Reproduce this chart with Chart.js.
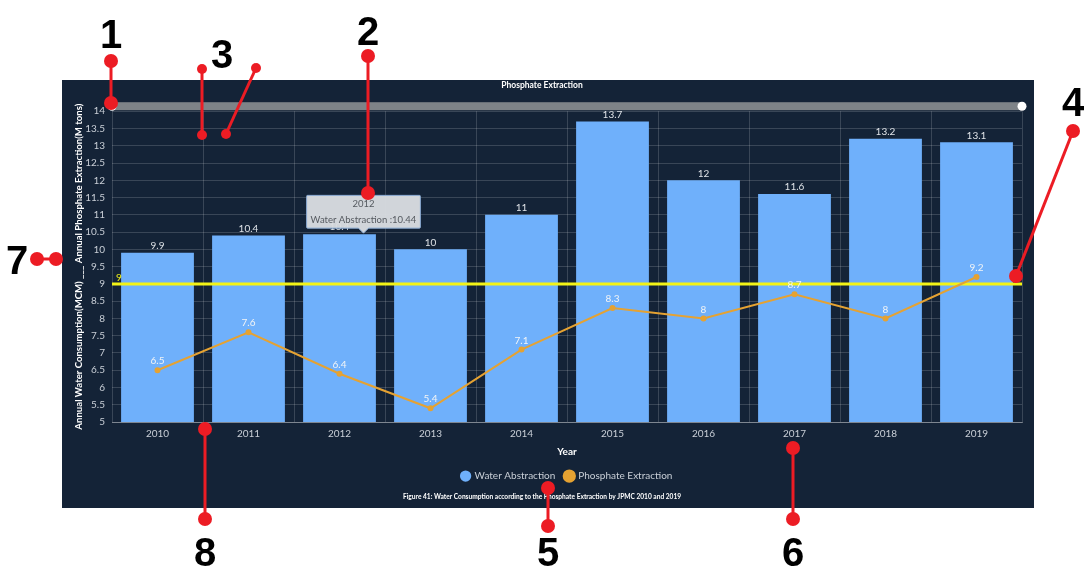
<!DOCTYPE html>
<html>
<head>
<meta charset="utf-8">
<title>Phosphate Extraction</title>
<script src="https://cdn.jsdelivr.net/npm/chart.js@4.4.0/dist/chart.umd.min.js"></script>
<style>
    html, body { margin: 0; padding: 0; background: #ffffff; }
    body { width: 1084px; height: 569px; position: relative; overflow: hidden; font-family: Lato, sans-serif; }
    .panel { position: absolute; left: 62px; top: 80px; width: 972px; height: 428px; background: #142337; }
    #chart { display: block; }
    .callouts { position: absolute; left: 0; top: 0; pointer-events: none; }
    .callouts text { font-family: "Liberation Sans", Arial, sans-serif; font-weight: 700; font-size: 40px; fill: #000; }
</style>
</head>
<body>
<div class="panel"><canvas id="chart" width="972" height="428"></canvas></div>
<svg class="callouts" id="callouts" width="1084" height="569"></svg>

<script>
// chart data
const years = ['2010', '2011', '2012', '2013', '2014', '2015', '2016', '2017', '2018', '2019'];
const waterAbstraction = [9.9, 10.4, 10.44, 10, 11, 13.7, 12, 11.6, 13.2, 13.1];
const phosphateExtraction = [6.5, 7.6, 6.4, 5.4, 7.1, 8.3, 8, 8.7, 8, 9.2];
const thresholdValue = 9;
const yMin = 5;
const yMax = 14;
const yStep = 0.5;
const tooltipIndex = 2; // 2012 bar is shown hovered

// numbered red callouts drawn over the figure
const callouts = [
    { label: '1', tx: 111, ty: 48, from: [111, 61], to: [111, 103], r: 7 },
    { label: '2', tx: 368, ty: 45, from: [368, 56], to: [368, 193], r: 7 },
    { label: '3', tx: 222, ty: 68, from: [202, 69], to: [202, 135], r: 5 },
    { label: '', tx: 0, ty: 0, from: [256, 68], to: [226, 134], r: 5 },
    { label: '4', tx: 1073, ty: 116, from: [1073, 131], to: [1016, 276], r: 7 },
    { label: '5', tx: 548, ty: 566, from: [548, 488], to: [548, 526], r: 7 },
    { label: '6', tx: 793, ty: 566, from: [793, 448], to: [793, 519], r: 7 },
    { label: '7', tx: 17, ty: 274, from: [37, 259], to: [56, 259], r: 7 },
    { label: '8', tx: 205, ty: 566, from: [205, 429], to: [205, 519], r: 7 }
];

const colors = {
    bar: '#6fb0fb',
    line: '#e5a232',
    legendLine: '#f3a514',
    threshold: '#f3f316',
    tick: '#c9cfd7',
    grid: 'rgba(255, 255, 255, 0.16)',
    white: '#ffffff'
};

const fmt = v => String(Math.round(v * 10) / 10);

// tooltip sits where the pointer was, at the top of the hovered bar
Chart.Tooltip.positioners.pointer = function (elements, eventPosition) {
    if (!elements.length) return false;
    return { x: eventPosition.x, y: elements[0].element.y };
};

// draws the 9 threshold line right after the bars, so the line series stays on top
const thresholdLine = {
    id: 'thresholdLine',
    afterDatasetDraw(chart, args) {
        if (args.index !== 0) return;
        const { ctx, chartArea } = chart;
        const y = chart.scales.y.getPixelForValue(thresholdValue);
        ctx.save();
        ctx.strokeStyle = colors.threshold;
        ctx.lineWidth = 3;
        ctx.beginPath();
        ctx.moveTo(chartArea.left, y);
        ctx.lineTo(chartArea.right, y);
        ctx.stroke();
        ctx.fillStyle = colors.threshold;
        ctx.font = '10px Lato';
        ctx.textAlign = 'left';
        ctx.textBaseline = 'bottom';
        ctx.fillText(String(thresholdValue), chartArea.left + 4, y - 1);
        ctx.restore();
    }
};

// value labels above bars and line points
const valueLabels = {
    id: 'valueLabels',
    afterDatasetsDraw(chart) {
        const ctx = chart.ctx;
        ctx.save();
        ctx.font = '10px Lato';
        ctx.textAlign = 'center';
        ctx.textBaseline = 'bottom';
        chart.data.datasets.forEach((ds, i) => {
            const meta = chart.getDatasetMeta(i);
            meta.data.forEach((el, j) => {
                ctx.fillStyle = meta.type === 'bar' ? '#dfe3e8' : '#f2f4f6';
                ctx.fillText(fmt(ds.data[j]), el.x, el.y - (meta.type === 'bar' ? 2 : 4));
            });
        });
        ctx.restore();
    }
};

// grey zoom slider above the plot
const zoomSlider = {
    id: 'zoomSlider',
    afterDraw(chart) {
        const { ctx, chartArea } = chart;
        const top = chartArea.top - 9;
        ctx.save();
        ctx.fillStyle = '#7e8388';
        ctx.fillRect(chartArea.left, top, chartArea.right - chartArea.left, 8);
        ctx.fillStyle = colors.white;
        [chartArea.left, chartArea.right].forEach(x => {
            ctx.beginPath();
            ctx.arc(x, top + 4, 4.5, 0, Math.PI * 2);
            ctx.fill();
        });
        ctx.restore();
    }
};

const chart = new Chart(document.getElementById('chart'), {
    data: {
        labels: years,
        datasets: [{
            type: 'bar',
            label: 'Water Abstraction',
            data: waterAbstraction,
            backgroundColor: colors.bar,
            categoryPercentage: 1,
            barPercentage: 0.8,
            order: 1
        }, {
            type: 'line',
            label: 'Phosphate Extraction',
            data: phosphateExtraction,
            borderColor: colors.line,
            backgroundColor: colors.legendLine,
            borderWidth: 2,
            pointRadius: 2,
            pointBackgroundColor: colors.line,
            tension: 0,
            order: 0
        }]
    },
    options: {
        responsive: false,
        animation: false,
        layout: { padding: { left: 0, right: 12, top: 0, bottom: 0 } },
        scales: {
            x: {
                grid: { color: colors.grid, offset: true, drawTicks: false },
                border: { color: 'rgba(255,255,255,0.35)' },
                ticks: { color: colors.tick, font: { family: 'Lato', size: 10 }, padding: 6 },
                title: {
                    display: true,
                    text: 'Year',
                    color: colors.white,
                    font: { family: 'Lato', size: 10, weight: 'bold' },
                    padding: { top: 5, bottom: 3 }
                },
                afterFit(scale) { scale.height = 39; }
            },
            y: {
                min: yMin,
                max: yMax,
                grid: { color: colors.grid, drawTicks: false },
                border: { display: false },
                ticks: {
                    stepSize: yStep,
                    color: colors.tick,
                    font: { family: 'Lato', size: 10 },
                    padding: 7,
                    callback: value => fmt(value)
                },
                title: {
                    display: true,
                    text: 'Annual Water Consumption(MCM) ___ Annual Phosphate Extraction(M tons)',
                    color: colors.white,
                    font: { family: 'Lato', size: 9.6, weight: 'bold' },
                    padding: { top: 11, bottom: 0 }
                },
                afterFit(scale) { scale.width = 50; }
            }
        },
        plugins: {
            title: {
                display: true,
                text: 'Phosphate Extraction',
                color: colors.white,
                font: { family: 'Lato', size: 8.5, weight: 'bold' },
                padding: { top: 0, bottom: 21 }
            },
            subtitle: {
                display: true,
                position: 'bottom',
                text: 'Figure 41: Water Consumption according to the Phosphate Extraction by JPMC 2010 and 2019',
                color: colors.white,
                font: { family: 'Lato', size: 6.6, weight: 'bold' },
                padding: { top: 2, bottom: 7 }
            },
            legend: {
                position: 'bottom',
                fullSize: false,
                labels: {
                    usePointStyle: true,
                    pointStyle: 'circle',
                    boxWidth: 8,
                    boxHeight: 8,
                    color: colors.tick,
                    font: { family: 'Lato', size: 10 },
                    padding: 10,
                    sort: (a, b) => a.datasetIndex - b.datasetIndex
                }
            },
            tooltip: {
                position: 'pointer',
                yAlign: 'bottom',
                xAlign: 'center',
                displayColors: false,
                backgroundColor: 'rgba(218, 221, 225, 0.96)',
                borderColor: '#88a9d2',
                borderWidth: 1,
                cornerRadius: 1,
                titleColor: '#555a60',
                bodyColor: '#555a60',
                titleFont: { family: 'Lato', size: 9.5, weight: 'normal' },
                bodyFont: { family: 'Lato', size: 9.5 },
                titleAlign: 'center',
                bodyAlign: 'center',
                titleMarginBottom: 4,
                padding: { x: 4, y: 3 },
                caretSize: 5,
                caretPadding: 1,
                callbacks: {
                    label: ctx => `${ctx.dataset.label} :${ctx.raw}`
                }
            }
        }
    },
    plugins: [thresholdLine, valueLabels, zoomSlider]
});

// show the 2012 tooltip as in the screenshot
const bar = chart.getDatasetMeta(0).data[tooltipIndex];
chart.tooltip.setActiveElements([{ datasetIndex: 0, index: tooltipIndex }], { x: bar.x + 24, y: bar.y });
chart.update();

// build the red callouts
const svg = document.getElementById('callouts');
const ns = 'http://www.w3.org/2000/svg';
const add = (tag, attrs, text) => {
    const node = document.createElementNS(ns, tag);
    Object.entries(attrs).forEach(([k, v]) => node.setAttribute(k, v));
    if (text) node.textContent = text;
    svg.appendChild(node);
};
callouts.forEach(c => {
    add('line', { x1: c.from[0], y1: c.from[1], x2: c.to[0], y2: c.to[1], stroke: '#ec1c24', 'stroke-width': 3 });
    add('circle', { cx: c.from[0], cy: c.from[1], r: c.r, fill: '#ec1c24' });
    add('circle', { cx: c.to[0], cy: c.to[1], r: c.r, fill: '#ec1c24' });
    if (c.label) add('text', { x: c.tx, y: c.ty, 'text-anchor': 'middle' }, c.label);
});
</script>
</body>
</html>
